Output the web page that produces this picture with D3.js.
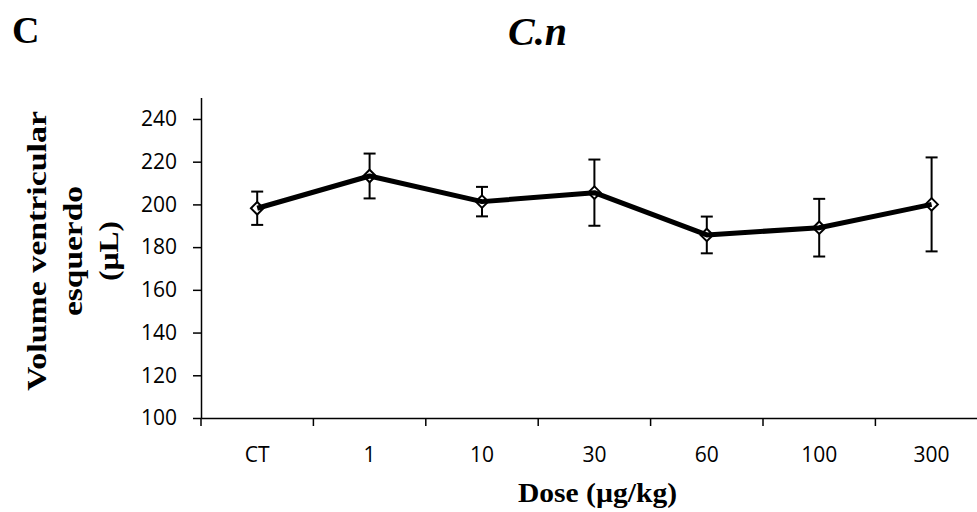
<!DOCTYPE html>
<html>
<head>
<meta charset="utf-8">
<script src="https://cdn.jsdelivr.net/npm/d3@7"></script>
<style>
  html, body { margin: 0; padding: 0; background: #fff; }
  svg { display: block; }
</style>
</head>
<body>
<svg id="chart" width="977" height="512"></svg>
<script>
const categories = ["CT", "1", "10", "30", "60", "100", "300"];
const means = [198.2, 213.3, 201.3, 205.5, 185.7, 189.1, 200.0];
const errors = [7.8, 10.5, 6.9, 15.5, 8.6, 13.5, 22.0];
const yTicks = [100, 120, 140, 160, 180, 200, 220, 240];
const panelLabel = "C";
const title = "C.n";
const xTitle = "Dose (µg/kg)";
const yTitleLines = ["Volume ventricular", "esquerdo", "(µL)"];

const svg = d3.select("#chart");
const left = 201, bottom = 418;

const x = d3.scaleBand().domain(categories).range([left, left + 7 * 112.4]).padding(0);
const y = d3.scaleLinear().domain([100, 250]).range([bottom, 97.6]);

// Y axis
const yAxis = svg.append("g")
  .attr("transform", `translate(${left},0)`)
  .call(d3.axisLeft(y).tickValues(yTicks).tickSize(8).tickSizeOuter(0).tickPadding(16).tickFormat(d3.format("d")));
yAxis.select(".domain").attr("stroke", "#000").attr("stroke-width", 1.5);
yAxis.selectAll(".tick line").attr("stroke", "#000").attr("stroke-width", 1.5);
yAxis.selectAll(".tick text")
  .attr("font-family", "'Open Sans', sans-serif").attr("font-size", 21).attr("fill", "#000");

// X axis (labels at centers, no ticks)
const xAxis = svg.append("g")
  .attr("transform", `translate(0,${bottom})`)
  .call(d3.axisBottom(x).tickSize(0).tickSizeOuter(0).tickPadding(29));
xAxis.select(".domain").attr("stroke", "#000").attr("stroke-width", 1.5);
xAxis.selectAll(".tick text")
  .attr("font-family", "'Open Sans', sans-serif").attr("font-size", 21).attr("fill", "#000");
// boundary ticks
svg.append("g").selectAll("line")
  .data(categories)
  .join("line")
  .attr("x1", d => x(d)).attr("x2", d => x(d))
  .attr("y1", bottom).attr("y2", bottom + 8)
  .attr("stroke", "#000").attr("stroke-width", 1.5);

const cx = d => x(d) + x.bandwidth() / 2;
const data = categories.map((c, i) => ({ c, m: means[i], e: errors[i] }));

// error bars
const eb = svg.append("g").attr("stroke", "#000").attr("stroke-width", 2);
eb.selectAll("line.v").data(data).join("line").attr("class", "v")
  .attr("x1", d => cx(d.c)).attr("x2", d => cx(d.c))
  .attr("y1", d => y(d.m + d.e)).attr("y2", d => y(d.m - d.e));
eb.selectAll("line.t").data(data).join("line").attr("class", "t")
  .attr("x1", d => cx(d.c) - 6).attr("x2", d => cx(d.c) + 6)
  .attr("y1", d => y(d.m + d.e)).attr("y2", d => y(d.m + d.e));
eb.selectAll("line.b").data(data).join("line").attr("class", "b")
  .attr("x1", d => cx(d.c) - 6).attr("x2", d => cx(d.c) + 6)
  .attr("y1", d => y(d.m - d.e)).attr("y2", d => y(d.m - d.e));

// markers
svg.append("g").selectAll("path").data(data).join("path")
  .attr("d", d3.symbol().type(d3.symbolDiamond2).size(100))
  .attr("transform", d => `translate(${cx(d.c)},${y(d.m)})`)
  .attr("fill", "#fff").attr("stroke", "#000").attr("stroke-width", 2);

// line
svg.append("path").datum(data)
  .attr("fill", "none").attr("stroke", "#000").attr("stroke-width", 5)
  .attr("stroke-linejoin", "round")
  .attr("d", d3.line().x(d => cx(d.c)).y(d => y(d.m)));

// titles
svg.append("text").attr("x", 12).attr("y", 43)
  .attr("font-family", "'Liberation Serif', serif").attr("font-weight", "bold")
  .attr("font-size", 38).text(panelLabel);
svg.append("text").attr("x", 508).attr("y", 45)
  .attr("font-family", "'Liberation Serif', serif").attr("font-weight", "bold")
  .attr("font-style", "italic").attr("font-size", 40).text(title);

svg.append("text").attr("x", 597.5).attr("y", 502)
  .attr("text-anchor", "middle")
  .attr("font-family", "'Liberation Serif', serif").attr("font-weight", "bold")
  .attr("font-size", 27).attr("textLength", 159).attr("lengthAdjust", "spacingAndGlyphs")
  .text(xTitle);

const yLens = [280, 130, 60];
const yBase = [46, 82, 118];
const yt = svg.append("g").attr("transform", "rotate(-90)");
yTitleLines.forEach((t, i) => {
  yt.append("text").attr("x", -251).attr("y", yBase[i])
    .attr("text-anchor", "middle")
    .attr("font-family", "'Liberation Serif', serif").attr("font-weight", "bold")
    .attr("font-size", 28).attr("textLength", yLens[i]).attr("lengthAdjust", "spacingAndGlyphs")
    .text(t);
});
</script>
</body>
</html>
